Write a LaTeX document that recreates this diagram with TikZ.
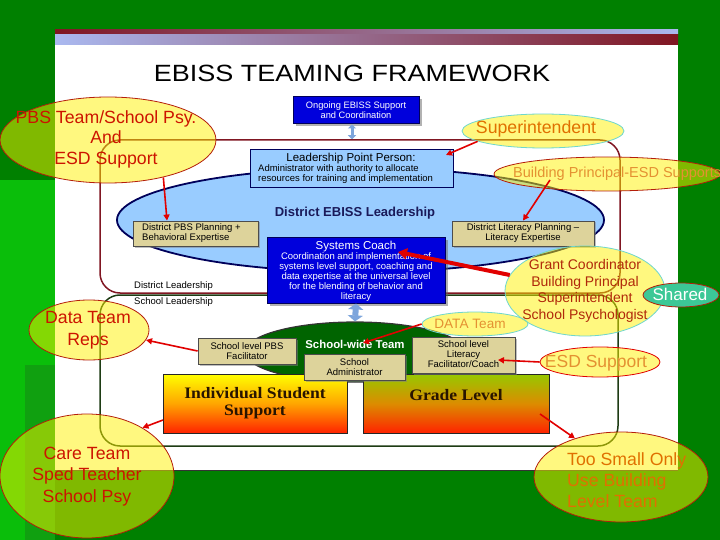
\documentclass[tikz,border=0pt]{standalone}
\usepackage{fontspec}
\setmainfont{Liberation Sans}
\newfontfamily\serifbf{Liberation Serif}
\usetikzlibrary{shapes.geometric,arrows.meta,shadows}
\newcommand\myfs[2]{\fontsize{#1}{#2}\selectfont}
\definecolor{bggreen}{RGB}{0,128,0}
\definecolor{bglight}{RGB}{16,160,16}
\definecolor{bgbright}{RGB}{10,190,10}
\definecolor{maroonc}{RGB}{128,22,34}
\definecolor{bandblue}{RGB}{170,185,240}
\definecolor{navyc}{RGB}{0,0,90}
\definecolor{boxblue}{RGB}{0,0,220}
\definecolor{lblue}{RGB}{153,204,255}
\definecolor{tanc}{RGB}{221,211,155}
\definecolor{swgreen}{RGB}{0,100,0}
\definecolor{slgreen}{RGB}{30,60,20}
\definecolor{calred}{RGB}{204,20,0}
\definecolor{calorange}{RGB}{224,112,0}
\definecolor{callight}{RGB}{228,145,50}
\definecolor{gctext}{RGB}{176,40,10}
\definecolor{cyanb}{RGB}{110,215,205}
\definecolor{redb}{RGB}{180,30,10}
\definecolor{arrred}{RGB}{225,0,0}
\definecolor{fatblue}{RGB}{125,165,220}
\definecolor{sharedc}{RGB}{60,200,150}
\definecolor{darktext}{RGB}{40,20,0}
\definecolor{titlenavy}{RGB}{26,26,90}
\begin{document}
\begin{tikzpicture}[x=1pt,y=-1pt,
  bluebox/.style={draw=navyc, fill=boxblue, line width=1pt, inner sep=0pt,
    drop shadow={shadow xshift=2.5pt, shadow yshift=-2.5pt, fill=black!60}},
  tanbox/.style={draw=black!70, fill=tanc, line width=0.8pt, inner sep=0pt,
    drop shadow={shadow xshift=1.5pt, shadow yshift=-1.5pt, fill=black!50}},
  small/.style={font=\myfs{9.5}{10}, align=center, inner sep=0pt},
  callout/.style={ellipse, fill=yellow, fill opacity=0.5, draw opacity=1, line width=0.8pt, inner sep=0pt},
  ctext/.style={align=center, inner sep=0pt},
  arr/.style={draw=arrred, line width=1.6pt, -{Triangle[length=6pt,width=6pt]}},
  fatarr/.style={draw=fatblue, line width=#1, {Triangle[length=4pt,width=8pt]}-{Triangle[length=4pt,width=8pt]}}
]
\useasboundingbox (0,0) rectangle (720,540);
% background
\fill[bggreen] (0,0) rectangle (720,540);
\fill[bgbright] (0,180) rectangle (55,365);
\fill[bglight] (25,365) rectangle (55,540);
\fill[bgbright] (0,365) rectangle (25,540);
% panel
\fill[white] (55,30) rectangle (678,470);
\draw[black!80, line width=0.8pt] (55,470) -- (678,470);
\shade[left color=bandblue, right color=maroonc] (55,34) rectangle (678,45);
\shade[left color=maroonc, right color=bandblue] (55,30) rectangle (678,34);
% title
\node[font=\myfs{23.5}{26}, xscale=1.15, inner sep=0pt] (title) at (352,73) {EBISS TEAMING FRAMEWORK};
% leadership frames
\node[draw=maroonc, line width=1.5pt, rounded corners=20pt, minimum width=520pt, minimum height=153pt] (dl) at (360,216.5) {};
\node[draw=slgreen, line width=1.5pt, rounded corners=20pt, minimum width=518pt, minimum height=151pt] (sl) at (359,370.5) {};
\node[font=\myfs{9.5}{10}, anchor=west, inner sep=0pt] (dltext) at (134,286) {District Leadership};
\node[font=\myfs{9.5}{10}, anchor=west, inner sep=0pt] (sltext) at (134,302) {School Leadership};
% district ellipse
\node[ellipse, draw=navyc, fill=lblue, line width=1.8pt, minimum width=487pt, minimum height=104pt, inner sep=0pt] (deb) at (360.5,220) {};
\node[font=\bfseries\myfs{13}{14}, text=titlenavy, inner sep=0pt] (debt) at (355,213) {District EBISS Leadership};
% ongoing
\node[bluebox, minimum width=126pt, minimum height=27pt] (ongoing) at (356,110.5) {};
\node[small, text=white, font=\myfs{9.3}{10}] (ongoingt) at (356,110) {Ongoing EBISS Support\\and Coordination};
\draw[fatarr=3pt] (ongoing.south -| 352,0) -- (dl.north -| 352,0);
% leadership point person
\node[draw=navyc, fill=lblue, line width=1pt, inner sep=0pt, minimum width=203pt, minimum height=38pt] (lpp) at (351.5,169) {};
\node[font=\myfs{11.5}{12}, inner sep=0pt] (lpph) at (351,159) {Leadership Point Person:};
\node[font=\myfs{9.5}{10}, align=left, anchor=north west, inner sep=0pt] (lppb) at (258,164) {Administrator with authority to allocate\\resources for training and implementation};
% district boxes
\node[tanbox, minimum width=125pt, minimum height=25pt] (dpbs) at (195.5,233.5) {};
\node[small, align=left, anchor=west] (dpbst) at (142,233.5) {District PBS Planning +\\Behavioral Expertise};
\node[tanbox, minimum width=142pt, minimum height=25pt] (dlit) at (523,233.5) {};
\node[small] (dlitt) at (523,233.5) {District Literacy Planning --\\Literacy Expertise};
% systems coach
\node[bluebox, minimum width=178pt, minimum height=66pt] (coach) at (356,270) {};
\node[small, text=white] (coacht) at (356,271) {{\myfs{11.5}{11}Systems Coach}\\Coordination and implementation of\\systems level support, coaching and\\data expertise at the universal level\\for the blending of behavior and\\literacy};
% school-wide team
\node[ellipse, draw=black!80, fill=swgreen, line width=1.2pt, minimum width=220pt, minimum height=60pt, inner sep=0pt] (swt) at (355,352) {};
\draw[fatarr=6pt, {Triangle[length=6pt,width=15pt]}-{Triangle[length=6pt,width=15pt]}] (coach.south) -- (swt.north);
% tiers
\node[draw=black!85, line width=1pt, inner sep=0pt, minimum width=184pt, minimum height=59pt,
  top color=yellow, bottom color={rgb,255:red,255;green,35;blue,0}, middle color={rgb,255:red,255;green,165;blue,0}] (iss) at (255,403.5) {};
\node[draw=black!85, line width=1pt, inner sep=0pt, minimum width=186pt, minimum height=59pt,
  top color={rgb,255:red,150;green,200;blue,0}, bottom color={rgb,255:red,255;green,35;blue,0}, middle color={rgb,255:red,220;green,140;blue,0}] (gl) at (456,403.5) {};
\node[font=\serifbf\bfseries\myfs{16}{17}, text=darktext, align=center, xscale=1.1, inner sep=0pt] (isst) at (255,403) {Individual Student\\Support};
\node[font=\serifbf\bfseries\myfs{16}{17}, text=darktext, xscale=1.1, inner sep=0pt] (glt) at (456,395) {Grade Level};
% school boxes
\node[font=\bfseries\myfs{11.4}{12}, text=white, inner sep=0pt] (swtt) at (355,344) {School-wide Team};
\node[tanbox, minimum width=98pt, minimum height=26pt] (pbsf) at (247,351) {};
\node[small] (pbsft) at (247,351) {School level PBS\\Facilitator};
\node[tanbox, minimum width=101pt, minimum height=26pt] (adm) at (354.5,367) {};
\node[small] (admt) at (354.5,367) {School\\Administrator};
\node[tanbox, minimum width=103pt, minimum height=36pt] (lit) at (463.5,355) {};
\node[small] (litt) at (463.5,354) {School level\\Literacy\\Facilitator/Coach};
% callouts
\node[callout, draw=redb, minimum width=216pt, minimum height=86pt] (pbs) at (108,140) {};
\node[ctext, text=calred, font=\myfs{17.7}{20.5}] (pbst) at (106,139) {PBS Team/School Psy.\\And\\ESD Support};
\node[callout, draw=cyanb, minimum width=162pt, minimum height=34pt] (sup) at (543,131) {};
\node[ctext, text=calorange, font=\myfs{17.7}{20}] (supt) at (536,129) {Superintendent};
\node[callout, draw=redb, minimum width=226pt, minimum height=34pt] (bp) at (607,174) {};
\node[ctext, text=callight, font=\myfs{14.5}{16}, anchor=west] (bpt) at (513,174) {Building Principal-ESD Supports};
\node[callout, draw=cyanb, minimum width=160pt, minimum height=90pt] (gc) at (585,291) {};
\node[ctext, text=gctext, font=\myfs{14}{16.7}] (gct) at (585,291) {Grant Coordinator\\Building Principal\\Superintendent\\School Psychologist};
\node[ellipse, fill=sharedc, draw=redb, line width=0.8pt, minimum width=76pt, minimum height=24pt, inner sep=0pt] (shared) at (681,295) {};
\node[ctext, text=white, font=\myfs{17}{18}] (sharedt) at (680,294) {Shared};
\node[callout, draw=redb, minimum width=120pt, minimum height=60pt] (dtr) at (89,330) {};
\node[ctext, text=calred, font=\myfs{17.7}{22}] (dtrt) at (88,330) {Data Team\\Reps};
\node[callout, draw=cyanb, minimum width=106pt, minimum height=24pt] (dt) at (475,324) {};
\node[ctext, text=callight, font=\myfs{13.6}{15}] (dtt) at (470,324) {DATA Team};
\node[callout, draw=arrred, minimum width=120pt, minimum height=30pt] (esd) at (600,362) {};
\node[ctext, text=callight, font=\myfs{17.5}{19}] (esdt) at (596,363) {ESD Support};
\node[callout, draw=redb, minimum width=174pt, minimum height=124pt] (care) at (87,476) {};
\node[ctext, text=calred, font=\myfs{17.7}{21.5}] (caret) at (87,476.5) {Care Team\\Sped Teacher\\School Psy};
\node[callout, draw=redb, minimum width=174pt, minimum height=90pt] (ts) at (621,477) {};
\node[ctext, text=calorange, font=\myfs{17.7}{21}, align=left, anchor=west] (tst) at (567,480) {Too Small Only\\Use Building\\Level Team};
% arrows
\coordinate (a2e) at (446,155);
\coordinate (a3s) at (550,180);
\coordinate (a4e) at (398,252);
\coordinate (a5e) at (363,343);
\coordinate (a7e) at (498,360);
\coordinate (a8s) at (163,420);
\coordinate (a9s) at (540,414);
\draw[arr] (pbs.-34) -- ([xshift=-28.5pt]dpbs.north);
\draw[arr] (sup.-171) -- (a2e);
\draw[arr] (a3s) -- (dlit.north);
\draw[arr, line width=4pt, -{Triangle[length=9pt,width=11pt]}] (gc.168) -- (a4e);
\draw[arr] (dt.west) -- (a5e);
\draw[arr] (pbsf.west) -- (dtr.-10);
\draw[arr] (esd.west) -- (a7e);
\draw[arr] (a8s) -- (care.41);
\draw[arr] (a9s) -- (ts.140);
\end{tikzpicture}
\end{document}
